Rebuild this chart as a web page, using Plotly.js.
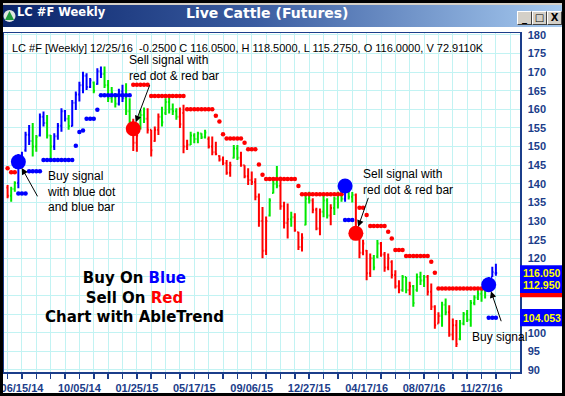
<!DOCTYPE html>
<html><head><meta charset="utf-8">
<script src="https://cdn.plot.ly/plotly-3.0.1.min.js"></script>
<style>
html,body{margin:0;padding:0;background:#fff;width:565px;height:396px;overflow:hidden;}
#chart{position:absolute;left:0;top:0;width:565px;height:396px;}
.chrome{position:absolute;z-index:10;}
.btn{position:absolute;z-index:11;top:11px;width:13px;height:12px;background:#d4d0c8;border-top:1px solid #fff;border-left:1px solid #fff;border-right:1px solid #404040;border-bottom:1px solid #404040;font:bold 10px 'DejaVu Sans',sans-serif;color:#000;text-align:center;line-height:12px;box-sizing:content-box;}
</style></head><body>
<div id="chart"></div>
<div class="chrome" style="left:0;top:0;width:565px;height:3px;background:#000"></div>
<div class="chrome" style="left:0;top:3px;width:565px;height:2px;background:#d4d0c8"></div>
<div class="chrome" style="left:3px;top:5px;width:559px;height:22px;background:linear-gradient(to right,#0a246a,#3a5ca0 45%,#a6caf0);"></div>
<div class="chrome" style="left:3px;top:9px;width:13px;height:14px;">
<svg width="13" height="14"><circle cx="6.5" cy="7" r="6" fill="#dfe6e0"/><polygon points="6.5,2 11,11 2,11" fill="#1e9a3c"/></svg></div>
<div class="chrome" style="left:17px;top:5px;height:22px;line-height:22px;color:#fff;font:bold 11.5px 'DejaVu Sans',sans-serif;white-space:nowrap;">LC #F Weekly</div>
<div class="chrome" style="left:186px;top:5px;height:22px;line-height:22px;color:#fff;font:bold 14px 'DejaVu Sans',sans-serif;white-space:nowrap;">Live Cattle (Futures)</div>
<div class="btn" style="left:517px;">_</div>
<div class="btn" style="left:532px;">&#9633;</div>
<div class="btn" style="left:547px;">X</div>
<div class="chrome" style="left:0;top:0;width:3px;height:396px;background:#000"></div>
<div class="chrome" style="left:562px;top:0;width:3px;height:396px;background:#000"></div>
<div class="chrome" style="left:0;top:393px;width:565px;height:3px;background:#000"></div>
<script>
// ---- data (weeks counted from 06/15/14; first bar is week -4) ----
const firstWeek = -4;
const barColor = ("rggbbbbggb" + "bggbbbbgbb" + "bbbbgbbggg" + "gbbggrrggr" + "rrrgggggrr" +
  "rgggggrrrr" + "rrrggrrrrr" + "rrrgggrrrg" + "rrrggrrrgg" + "rgggbggrrr" +
  "rrggrrrrrr" + "ggrggggrrr" + "rggrrrgggg" + "ggggbbb").split("");
const high = [139.7,139.2,140.7,148.0,148.6,154.0,155.8,156.3,153.1,158.9,
  159.4,158.5,153.1,153.6,156.3,160.3,159.8,158.5,162.5,164.8,
  167.4,170.1,169.7,168.4,167.5,171.0,171.5,171.5,167.9,166.0,
  164.3,165.5,166.6,167.0,163.0,157.5,154.0,159.8,160.5,160.3,
  154.5,155.4,158.9,160.7,163.0,163.4,161.6,160.3,160.5,161.2,
  151.8,154.0,153.6,154.0,153.6,154.5,152.7,152.7,151.3,147.7,
  147.3,146.4,145.9,150.4,150.4,148.6,145.0,144.2,143.3,141.5,
  137.4,133.8,131.2,136.1,141.0,144.8,141.9,135.2,134.7,132.5,
  132.1,127.1,126.7,137.0,137.9,136.1,133.6,133.4,137.0,136.1,
  134.5,136.5,137.9,138.3,141.0,138.5,137.8,137.4,127.1,125.0,
  122.2,121.3,120.9,124.9,124.4,121.7,121.3,119.5,116.8,114.1,
  115.5,115.0,113.7,112.8,115.9,116.4,115.5,115.5,113.2,107.4,
  105.5,108.3,109.2,107.4,103.8,103.4,103.4,105.6,106.1,108.8,
  110.1,111.4,112.3,113.2,115.0,117.7,118.5];
const low = [136.1,135.2,137.9,138.8,144.6,148.6,150.4,147.3,148.6,152.7,
  155.4,152.2,146.8,149.1,151.8,154.0,156.7,154.5,155.4,159.8,
  162.1,164.3,165.2,165.7,164.3,166.6,168.4,165.7,162.0,161.8,
  160.5,161.0,162.0,158.5,155.6,148.8,148.6,154.6,156.3,153.5,
  147.3,151.3,153.1,155.4,158.5,158.9,158.5,157.2,155.0,148.2,
  149.1,150.4,150.9,150.9,152.0,152.2,149.5,147.7,147.7,146.0,
  145.0,142.4,141.9,146.8,146.4,144.6,141.5,139.7,139.7,135.6,
  128.5,120.0,120.9,131.2,137.4,138.8,133.0,128.0,125.3,128.5,
  127.1,122.2,121.8,128.9,134.7,132.1,127.5,126.2,131.0,130.7,
  128.9,131.6,133.4,135.2,135.2,135.8,135.0,125.5,120.0,120.8,
  114.1,115.0,116.8,120.0,120.4,116.4,116.8,114.6,111.9,110.6,
  111.0,110.6,110.1,107.0,111.0,112.8,112.3,110.0,106.1,101.1,
  102.5,101.6,104.7,98.9,98.0,96.2,98.0,102.0,102.9,101.6,
  107.4,108.8,108.3,109.2,111.5,115.0,115.275];
const open = [139.0,136.8,138.6,140.2,146.5,149.0,153.2,151.5,150.0,153.0,
  158.0,156.3,153.0,150.0,152.8,155.6,159.5,157.5,155.5,161.8,
  164.0,166.5,169.0,166.0,167.2,166.8,170.2,169.5,166.5,163.0,
  164.0,161.5,164.8,163.0,159.5,156.5,151.0,155.0,158.5,157.5,
  154.5,151.5,154.5,158.0,159.0,162.0,160.0,159.5,158.0,159.0,
  150.0,150.5,153.0,152.0,153.5,152.5,152.0,150.0,148.5,147.5,
  146.5,145.5,143.0,147.0,149.5,147.0,145.0,142.0,141.0,140.5,
  136.5,130.0,122.0,131.5,137.5,140.0,139.5,134.0,129.5,130.5,
  131.0,127.0,123.0,129.0,136.0,135.5,133.0,128.0,132.5,135.5,
  131.5,133.5,136.0,137.0,136.0,138.2,136.5,137.0,126.5,121.5,
  122.0,116.0,120.0,120.5,124.0,121.0,117.5,119.0,115.5,112.5,
  111.5,115.0,111.5,112.5,111.5,115.0,114.0,115.0,111.0,107.0,
  102.5,104.5,107.5,105.5,99.5,102.0,98.3,102.5,105.0,103.5,
  108.0,109.5,110.5,111.5,112.8,115.0,116.0];
const close = [136.8,138.6,140.2,146.5,145.5,153.2,151.5,150.0,152.6,158.0,
  156.3,153.0,150.0,152.8,155.6,159.5,157.5,155.5,161.8,164.0,
  166.5,169.0,166.0,167.8,165.0,170.2,169.5,166.5,163.0,164.5,
  161.5,164.8,163.0,159.5,156.5,151.0,153.0,158.5,157.5,154.5,
  149.0,154.5,158.0,156.5,162.0,160.0,159.5,158.0,156.0,150.0,
  150.5,153.0,152.0,153.5,152.5,153.8,150.0,148.5,148.0,146.5,
  145.5,143.0,145.0,149.5,147.0,145.0,142.0,141.0,140.5,136.5,
  130.0,122.0,130.0,135.5,140.0,139.5,134.0,129.5,130.5,131.0,
  127.5,123.0,125.5,136.0,135.5,133.0,128.0,132.5,135.5,131.5,
  133.5,136.0,137.0,136.0,139.5,136.5,137.0,126.5,121.5,124.0,
  116.0,120.0,117.5,124.0,121.0,117.5,120.0,115.5,112.5,111.5,
  115.0,111.5,112.5,108.0,115.0,114.0,115.0,111.0,107.0,102.0,
  104.5,107.5,105.5,99.5,102.0,97.0,102.5,105.0,103.5,108.0,
  109.5,110.5,111.5,112.8,114.5,116.3,116.05];

// trailing stop dots, as runs of weeks at one level
const redStopFrom  = [-4,-3,31,36,46,54,55,56,57,62,63,66,67,68,77,78,94,96,97,102,103,104,107,114,115,116];
const redStopTo    = [-4,-2,35,45,53,54,55,56,61,62,65,66,67,76,77,89,95,96,101,102,103,106,113,114,115,129];
const redStopLevel = [144.2,143.1,166.6,163.6,160.0,158.3,156.7,153.3,152.2,151.0,149.3,145.2,142.4,141.3,139.4,137.2,133.6,131.6,128.7,127.1,125.3,122.2,120.6,119.1,116.1,111.9];
const blueStopFrom  = [-1,2,6,15,16,17,18,21,22,90,130];
const blueStopTo    = [1,5,14,15,16,17,20,21,30,92,132];
const blueStopLevel = [137.4,143.4,146.4,150.2,153.9,154.3,157.5,159.9,163.8,130.3,104.05];

// signals
const buyWeek = [-1, 90, 130];
const buyPrice = [145.9, 139.4, 112.9];
const sellWeek = [31, 93];
const sellPrice = [154.8, 126.7];

// axis labels
const xTickDates = ['2014-06-15','2014-10-05','2015-01-25','2015-05-17','2015-09-06','2015-12-27','2016-04-17','2016-08-07','2016-11-27'];
const xTickLabels = ['06/15/14','10/05/14','01/25/15','05/17/15','09/06/15','12/27/15','04/17/16','08/07/16','11/27/16'];
const yTickVals = [90,95,100,120,125,130,135,140,145,150,155,160,165,170,175,180]; // 105-115 sit under the price tags
const priceTags = [116.050, 112.950, 104.053];
const priceTagText = ['116.050','112.950','104.053'];
const redTag = 111.9;

const headerText = 'LC #F [Weekly] 12/25/16  -0.2500 C 116.0500, H 118.5000, L 115.2750, O 116.0000, V 72.9110K';

// ---- build ----
const DAY = 86400000;
function weekDate(w){ return new Date(Date.UTC(2014,5,15) + w*7*DAY).toISOString().slice(0,10); }
const dates = high.map((_, i) => weekDate(i + firstWeek));

const COLORS = {b:'#0000ff', r:'#ff0000', g:'#00e800'};
const NAVY = '#1b3d8a';
const GRID = '#c2f3f3';

function ohlcTrace(code){
  const idx = [];
  barColor.forEach((c,i)=>{ if(c===code) idx.push(i); });
  const col = COLORS[code];
  return {type:'ohlc', x:idx.map(i=>dates[i]), open:idx.map(i=>open[i]), high:idx.map(i=>high[i]),
    low:idx.map(i=>low[i]), close:idx.map(i=>close[i]), tickwidth:0.35,
    increasing:{line:{color:col,width:2}}, decreasing:{line:{color:col,width:2}},
    hoverinfo:'skip', showlegend:false};
}
function stopTraces(from, to, level, col){
  const mx=[], my=[], lx=[], ly=[];
  for(let k=0;k<from.length;k++){
    for(let w=from[k]; w<=to[k]; w++){ mx.push(weekDate(w)); my.push(level[k]); }
    if(to[k]>from[k]){ lx.push(weekDate(from[k]), weekDate(to[k]), null); ly.push(level[k], level[k], null); }
  }
  return [
    {type:'scatter', mode:'lines', x:lx, y:ly, line:{color:col,width:1}, hoverinfo:'skip', showlegend:false, connectgaps:false},
    {type:'scatter', mode:'markers', x:mx, y:my, marker:{color:col,size:4.5}, hoverinfo:'skip', showlegend:false}
  ];
}

const traces = [ohlcTrace('g'), ohlcTrace('r'), ohlcTrace('b')]
  .concat(stopTraces(redStopFrom, redStopTo, redStopLevel, '#ff0000'))
  .concat(stopTraces(blueStopFrom, blueStopTo, blueStopLevel, '#0000ff'))
  .concat([
    {type:'scatter', mode:'markers', x:buyWeek.map(weekDate), y:buyPrice, marker:{color:'#0000ff',size:15}, hoverinfo:'skip', showlegend:false},
    {type:'scatter', mode:'markers', x:sellWeek.map(weekDate), y:sellPrice, marker:{color:'#ff0000',size:15}, hoverinfo:'skip', showlegend:false}
  ]);

const TXT = 'Liberation Sans, Arial, sans-serif';
const annotations = [];
// header
annotations.push({xref:'paper', yref:'paper', x:0.0107, y:0.956, xanchor:'left', yanchor:'middle', showarrow:false,
  text:headerText, font:{family:TXT, size:11, color:'#000'}});
// signal notes
const noteText = ['Buy signal<br>with blue dot<br>and blue bar', 'Sell signal with<br>red dot &amp; red bar', 'Sell signal with<br>red dot &amp; red bar', 'Buy signal'];
const noteX = [0.0795, 0.2378, 0.6913, 0.903];
const noteY = [0.532, 0.897, 0.5605, 0.1024];
noteText.forEach((t,i)=>annotations.push({xref:'paper', yref:'paper', x:noteX[i], y:noteY[i], xanchor:'left', yanchor:'middle',
  align:'left', showarrow:false, text:t, font:{family:TXT, size:12, color:'#000'}}));
// arrows to the signal circles
const arrowTargets = [[buyWeek[0], buyPrice[0], 20, 36], [sellWeek[0], sellPrice[0], 17, -45], [sellWeek[1], sellPrice[1], 13, -37], [buyWeek[2], buyPrice[2], 13, 38]];
arrowTargets.forEach(a=>annotations.push({x:weekDate(a[0]), y:a[1], xref:'x', yref:'y', ax:a[2], ay:a[3], text:'', showarrow:true,
  arrowhead:2, arrowsize:1.3, arrowwidth:1, arrowcolor:'#000', standoff:7}));
// big legend block
annotations.push({xref:'paper', yref:'paper', x:0.252, y:0.2204, xanchor:'center', yanchor:'middle', showarrow:false, align:'center',
  text:'Buy On <span style="color:#0000ff">Blue</span><br>Sell On <span style="color:#ff0000">Red</span><br>Chart with AbleTrend',
  font:{family:'DejaVu Sans, sans-serif', size:15, color:'#000', weight:'bold'}});
// price tags on right axis
priceTags.forEach((p,i)=>annotations.push({xref:'paper', yref:'y', x:1, y:p, xanchor:'left', yanchor:'middle', xshift:1, showarrow:false,
  text:priceTagText[i], font:{family:TXT, size:10.5, color:'#ffff00', weight:'bold'}}));

const shapes = [
  {type:'rect', xref:'paper', yref:'y', x0:1, x1:1.1, y0:redTag-2.35, y1:redTag+2.35, fillcolor:'#ff0000', line:{width:0}, layer:'above'},
  {type:'rect', xref:'paper', yref:'y', x0:1, x1:1.1, y0:priceTags[1]-2.3, y1:priceTags[0]+2.1, fillcolor:'#0000ff', line:{width:0}, layer:'above'},
  {type:'rect', xref:'paper', yref:'y', x0:1, x1:1.1, y0:priceTags[2]-2.3, y1:priceTags[2]+2.3, fillcolor:'#0000ff', line:{width:0}, layer:'above'}
];

const layout = {
  width:565, height:396, margin:{l:4, r:45, t:33, b:24, pad:0},
  paper_bgcolor:'#ffffff', plot_bgcolor:'#ffffff', showlegend:false, hovermode:false,
  xaxis:{type:'date', range:['2014-05-11','2017-02-10'], tickvals:xTickDates, ticktext:xTickLabels,
    ticks:'outside', ticklen:5, tickwidth:1.5, tickcolor:NAVY, showgrid:true, gridcolor:GRID, gridwidth:1,
    minor:{tick0:'2014-06-15', dtick:28*DAY, ticks:'outside', ticklen:5, tickwidth:1.5, tickcolor:NAVY, showgrid:true, gridcolor:GRID, gridwidth:1},
    showline:true, linecolor:NAVY, linewidth:1.5, mirror:true, zeroline:false, fixedrange:true,
    tickfont:{family:TXT, size:11, color:NAVY, weight:'bold'}, rangeslider:{visible:false}},
  yaxis:{side:'right', range:[89.46,180.5], tickvals:yTickVals, ticks:'', showgrid:true, gridcolor:GRID, gridwidth:1,
    minor:{tick0:90, dtick:5, ticks:'', showgrid:true, gridcolor:GRID, gridwidth:1},
    showline:true, linecolor:NAVY, linewidth:1.5, mirror:true, zeroline:false, fixedrange:true, ticklabelstandoff:4,
    tickfont:{family:TXT, size:11, color:NAVY, weight:'bold'}},
  shapes:shapes, annotations:annotations
};

Plotly.newPlot('chart', traces, layout, {displayModeBar:false, staticPlot:true});
</script>
</body></html>
